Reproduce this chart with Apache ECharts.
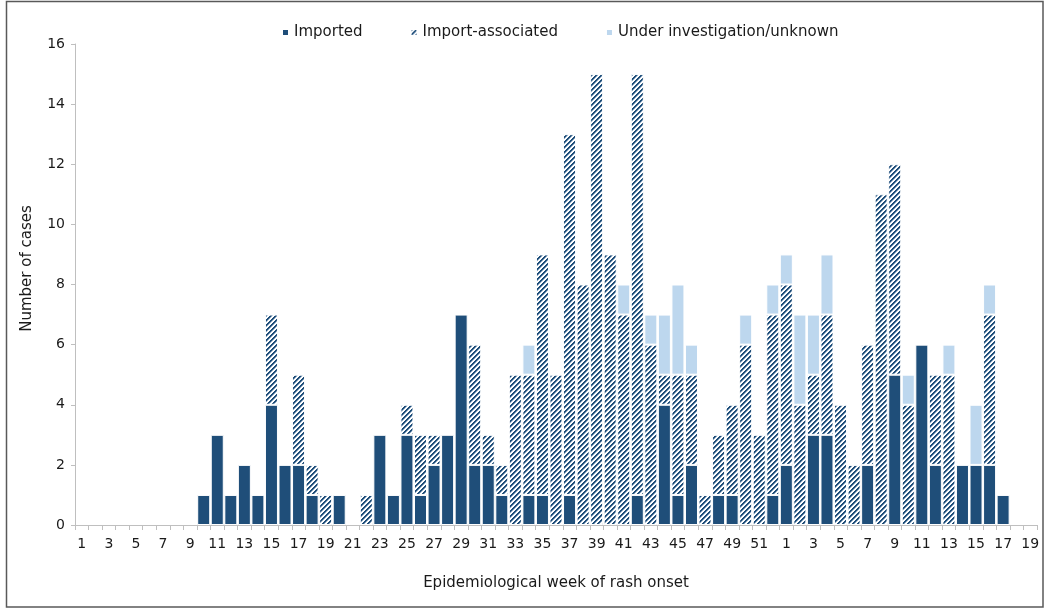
<!DOCTYPE html>
<html>
<head>
<meta charset="utf-8">
<script src="https://cdn.jsdelivr.net/npm/echarts@6/dist/echarts.min.js"></script>
<style>
  html, body { margin: 0; padding: 0; background: #fff; }
  #chart { width: 1048px; height: 609px; }
</style>
</head>
<body>
<div id="chart"></div>
<script>
// weeks of rash onset (two consecutive years)
const weeks = ['1','2','3','4','5','6','7','8','9','10','11','12','13','14','15','16','17','18','19','20',
  '21','22','23','24','25','26','27','28','29','30','31','32','33','34','35','36','37','38','39','40',
  '41','42','43','44','45','46','47','48','49','50','51','52',
  '1','2','3','4','5','6','7','8','9','10','11','12','13','14','15','16','17','18','19'];

const imported = [0,0,0,0,0,0,0,0,0,1,3,1,2,1,4,2,2,1,0,1,
  0,0,3,1,3,1,2,3,7,2,2,1,0,1,1,0,1,0,0,0,
  0,1,0,4,1,2,0,1,1,0,0,1,
  2,0,3,3,0,0,2,0,5,0,6,2,0,2,2,2,1,0,0];

const importAssociated = [0,0,0,0,0,0,0,0,0,0,0,0,0,0,3,0,3,1,1,0,
  0,1,0,0,1,2,1,0,0,4,1,1,5,4,8,5,12,8,15,9,
  7,14,6,1,4,3,1,2,3,6,3,6,
  6,4,2,4,4,2,4,11,7,4,0,3,5,0,0,5,0,0,0];

const unknown = [0,0,0,0,0,0,0,0,0,0,0,0,0,0,0,0,0,0,0,0,
  0,0,0,0,0,0,0,0,0,0,0,0,0,1,0,0,0,0,0,0,
  1,0,1,2,3,1,0,0,0,1,0,1,
  1,3,2,2,0,0,0,0,0,1,0,0,1,0,2,1,0,0,0];

const yTicks = { min: 0, max: 16, interval: 2 };

// diagonal hatch for the import-associated series
const P = 5;
const hatch = document.createElement('canvas');
hatch.width = P; hatch.height = P;
const hctx = hatch.getContext('2d');
for (let x = 0; x < P; x++) {
  for (let y = 0; y < P; y++) {
    const k = (x + y) % P;
    hctx.fillStyle = k < 2 ? '#1f4e79' : (k === 2 ? '#8aa6c3' : '#ffffff');
    hctx.fillRect(x, y, 1, 1);
  }
}

const navy = '#1f4e79';
const light = '#bdd7ee';
const font = 'DejaVu Sans';

const nz = arr => arr.map(v => v === 0 ? '-' : v);

const myChart = echarts.init(document.getElementById('chart'));

const option = {
  animation: false,
  textStyle: { fontFamily: font },
  graphic: [{
    type: 'rect',
    shape: { x: 6.5, y: 1.5, width: 1036.5, height: 605.5 },
    style: { fill: 'none', stroke: '#595959', lineWidth: 1.5 },
    silent: true
  }],
  legend: {
    top: 20,
    left: 276,
    itemWidth: 7,
    itemHeight: 7,
    itemGap: 47,
    icon: 'rect',
    textStyle: { fontFamily: font, fontSize: 15, color: '#1a1a1a' },
    data: ['Imported', 'Import-associated', 'Under investigation/unknown']
  },
  grid: { left: 75, right: 11, top: 44, bottom: 84, containLabel: false },
  xAxis: {
    type: 'category',
    data: weeks,
    name: 'Epidemiological week of rash onset',
    nameLocation: 'middle',
    nameGap: 51,
    nameTextStyle: { fontFamily: font, fontSize: 15, color: '#1a1a1a' },
    axisLine: { lineStyle: { color: '#bfbfbf', width: 1 } },
    axisTick: { show: true, interval: 0, length: 5, lineStyle: { color: '#bfbfbf' } },
    axisLabel: { interval: 1, margin: 12, fontFamily: font, fontSize: 14, color: '#1a1a1a' }
  },
  yAxis: {
    type: 'value',
    min: yTicks.min,
    max: yTicks.max,
    interval: yTicks.interval,
    name: 'Number of cases',
    nameLocation: 'middle',
    nameGap: 40,
    nameTextStyle: { fontFamily: font, fontSize: 15, color: '#1a1a1a', padding: [0, 0, 0, 32] },
    axisLine: { show: true, lineStyle: { color: '#bfbfbf', width: 1 } },
    axisTick: { show: true, length: 4, lineStyle: { color: '#bfbfbf' } },
    axisLabel: { margin: 10, fontFamily: font, fontSize: 14, color: '#1a1a1a' },
    splitLine: { show: false }
  },
  series: [
    {
      name: 'Imported',
      type: 'bar',
      stack: 'cases',
      barCategoryGap: '4%',
      data: nz(imported),
      itemStyle: { color: navy, borderColor: '#ffffff', borderWidth: 1 }
    },
    {
      name: 'Import-associated',
      type: 'bar',
      stack: 'cases',
      data: nz(importAssociated),
      itemStyle: { color: { image: hatch, repeat: 'repeat' }, borderColor: '#ffffff', borderWidth: 1 }
    },
    {
      name: 'Under investigation/unknown',
      type: 'bar',
      stack: 'cases',
      data: nz(unknown),
      itemStyle: { color: light, borderColor: '#ffffff', borderWidth: 1 }
    }
  ]
};

myChart.setOption(option);
</script>
</body>
</html>
